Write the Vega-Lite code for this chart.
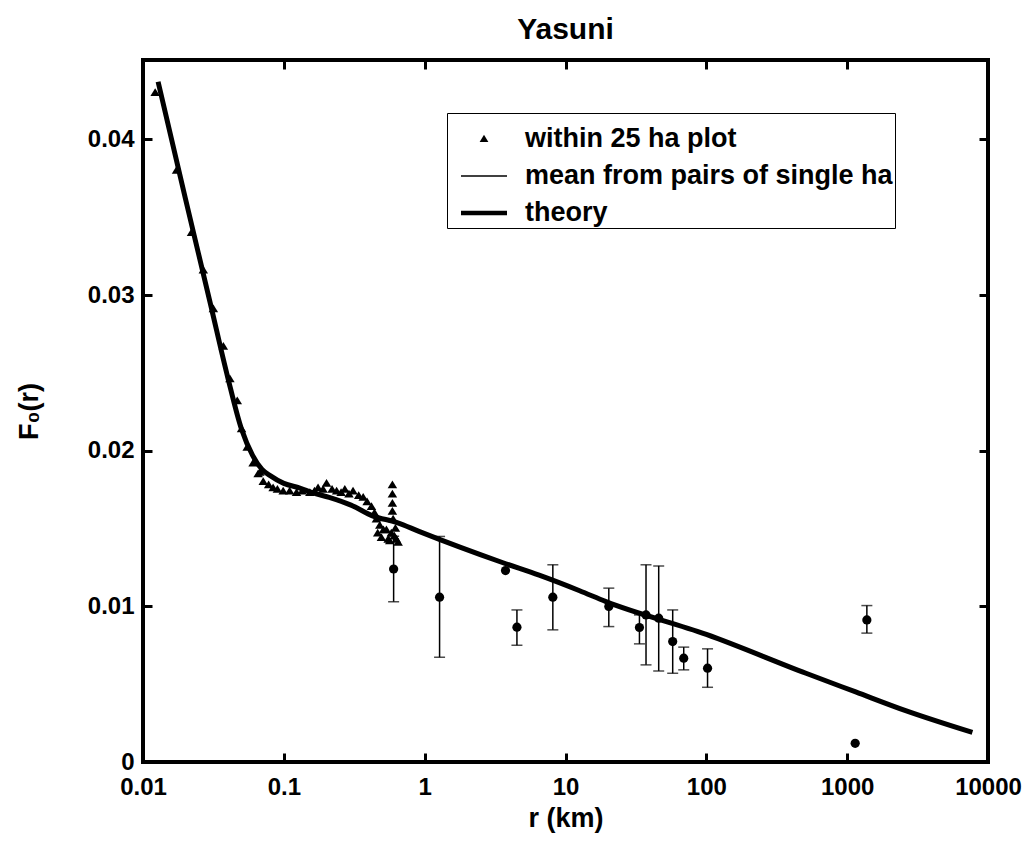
{
  "$schema": "https://vega.github.io/schema/vega-lite/v6.json",
  "width": 845,
  "height": 702,
  "autosize": {"type": "none"},
  "padding": {"left": 143, "top": 60, "right": 45, "bottom": 85},
  "background": "white",
  "config": {
    "font": "Liberation Sans",
    "view": {"stroke": "black", "strokeWidth": 4},
    "axis": {
      "domain": false,
      "grid": false,
      "tickColor": "black",
      "tickWidth": 3,
      "tickSize": -9,
      "labelFont": "Liberation Sans",
      "labelFontWeight": "bold",
      "labelFontSize": 24,
      "labelColor": "black",
      "titleFont": "Liberation Sans",
      "titleFontWeight": "bold",
      "titleFontSize": 27,
      "titleColor": "black"
    }
  },
  "title": {
    "text": "Yasuni",
    "font": "Liberation Sans",
    "fontSize": 30,
    "fontWeight": "bold",
    "color": "black",
    "offset": 14
  },
  "datasets": {
    "theory": [
      {"r": 0.0128, "F": 0.0437},
      {"r": 0.02, "F": 0.0362},
      {"r": 0.03, "F": 0.0295},
      {"r": 0.04, "F": 0.0247},
      {"r": 0.05, "F": 0.0214},
      {"r": 0.06, "F": 0.0197},
      {"r": 0.07, "F": 0.0188},
      {"r": 0.08, "F": 0.0184},
      {"r": 0.1, "F": 0.0179},
      {"r": 0.13, "F": 0.0176},
      {"r": 0.16, "F": 0.0173},
      {"r": 0.21, "F": 0.0170},
      {"r": 0.3, "F": 0.0165},
      {"r": 0.43, "F": 0.0158},
      {"r": 0.63, "F": 0.0154},
      {"r": 0.92, "F": 0.0148},
      {"r": 3.6, "F": 0.0128},
      {"r": 6.5, "F": 0.0120},
      {"r": 12.6, "F": 0.0110},
      {"r": 19.4, "F": 0.0103},
      {"r": 100, "F": 0.0082},
      {"r": 510, "F": 0.0057},
      {"r": 1150, "F": 0.0045},
      {"r": 2600, "F": 0.0033},
      {"r": 7750, "F": 0.0019}
    ],
    "plot25": [
      {"r": 0.0122, "F": 0.0430, "series": "within 25 ha plot"},
      {"r": 0.0173, "F": 0.0380, "series": "within 25 ha plot"},
      {"r": 0.0221, "F": 0.0340, "series": "within 25 ha plot"},
      {"r": 0.0268, "F": 0.0316, "series": "within 25 ha plot"},
      {"r": 0.0316, "F": 0.0291, "series": "within 25 ha plot"},
      {"r": 0.0372, "F": 0.0267, "series": "within 25 ha plot"},
      {"r": 0.0414, "F": 0.0246, "series": "within 25 ha plot"},
      {"r": 0.0467, "F": 0.0232, "series": "within 25 ha plot"},
      {"r": 0.0501, "F": 0.0214, "series": "within 25 ha plot"},
      {"r": 0.0549, "F": 0.0202, "series": "within 25 ha plot"},
      {"r": 0.0605, "F": 0.0192, "series": "within 25 ha plot"},
      {"r": 0.0623, "F": 0.0193, "series": "within 25 ha plot"},
      {"r": 0.0657, "F": 0.0185, "series": "within 25 ha plot"},
      {"r": 0.0676, "F": 0.0186, "series": "within 25 ha plot"},
      {"r": 0.0714, "F": 0.0180, "series": "within 25 ha plot"},
      {"r": 0.078, "F": 0.0178, "series": "within 25 ha plot"},
      {"r": 0.0839, "F": 0.0176, "series": "within 25 ha plot"},
      {"r": 0.09, "F": 0.0175, "series": "within 25 ha plot"},
      {"r": 0.0989, "F": 0.0174, "series": "within 25 ha plot"},
      {"r": 0.11, "F": 0.0174, "series": "within 25 ha plot"},
      {"r": 0.123, "F": 0.0173, "series": "within 25 ha plot"},
      {"r": 0.135, "F": 0.0174, "series": "within 25 ha plot"},
      {"r": 0.153, "F": 0.0173, "series": "within 25 ha plot"},
      {"r": 0.165, "F": 0.0174, "series": "within 25 ha plot"},
      {"r": 0.175, "F": 0.0176, "series": "within 25 ha plot"},
      {"r": 0.19, "F": 0.0175, "series": "within 25 ha plot"},
      {"r": 0.201, "F": 0.0179, "series": "within 25 ha plot"},
      {"r": 0.22, "F": 0.0175, "series": "within 25 ha plot"},
      {"r": 0.237, "F": 0.0174, "series": "within 25 ha plot"},
      {"r": 0.255, "F": 0.0173, "series": "within 25 ha plot"},
      {"r": 0.271, "F": 0.0175, "series": "within 25 ha plot"},
      {"r": 0.29, "F": 0.0172, "series": "within 25 ha plot"},
      {"r": 0.31, "F": 0.0174, "series": "within 25 ha plot"},
      {"r": 0.34, "F": 0.0171, "series": "within 25 ha plot"},
      {"r": 0.366, "F": 0.0170, "series": "within 25 ha plot"},
      {"r": 0.39, "F": 0.0167, "series": "within 25 ha plot"},
      {"r": 0.419, "F": 0.0164, "series": "within 25 ha plot"},
      {"r": 0.44, "F": 0.0160, "series": "within 25 ha plot"},
      {"r": 0.454, "F": 0.0156, "series": "within 25 ha plot"},
      {"r": 0.464, "F": 0.0147, "series": "within 25 ha plot"},
      {"r": 0.48, "F": 0.0152, "series": "within 25 ha plot"},
      {"r": 0.493, "F": 0.0144, "series": "within 25 ha plot"},
      {"r": 0.51, "F": 0.0149, "series": "within 25 ha plot"},
      {"r": 0.535, "F": 0.0149, "series": "within 25 ha plot"},
      {"r": 0.55, "F": 0.0143, "series": "within 25 ha plot"},
      {"r": 0.565, "F": 0.0142, "series": "within 25 ha plot"},
      {"r": 0.58, "F": 0.0147, "series": "within 25 ha plot"},
      {"r": 0.597, "F": 0.0156, "series": "within 25 ha plot"},
      {"r": 0.59, "F": 0.0178, "series": "within 25 ha plot"},
      {"r": 0.59, "F": 0.0172, "series": "within 25 ha plot"},
      {"r": 0.59, "F": 0.0166, "series": "within 25 ha plot"},
      {"r": 0.59, "F": 0.0161, "series": "within 25 ha plot"},
      {"r": 0.61, "F": 0.0145, "series": "within 25 ha plot"},
      {"r": 0.63, "F": 0.0143, "series": "within 25 ha plot"},
      {"r": 0.648, "F": 0.0141, "series": "within 25 ha plot"},
      {"r": 0.62, "F": 0.0150, "series": "within 25 ha plot"}
    ],
    "pairs": [
      {"r": 0.602, "F": 0.0124, "lo": 0.0103, "hi": 0.0145},
      {"r": 1.276, "F": 0.01059, "lo": 0.00673, "hi": 0.01449},
      {"r": 3.75, "F": 0.0123, "lo": null, "hi": null},
      {"r": 4.52, "F": 0.00866, "lo": 0.0075, "hi": 0.00977},
      {"r": 8.13, "F": 0.01059, "lo": 0.00849, "hi": 0.01267},
      {"r": 20.3, "F": 0.00999, "lo": 0.0087, "hi": 0.01117},
      {"r": 33.5, "F": 0.00864, "lo": 0.00759, "hi": 0.00945},
      {"r": 37.3, "F": 0.00945, "lo": 0.00624, "hi": 0.01267},
      {"r": 45.9, "F": 0.00924, "lo": 0.00585, "hi": 0.0126},
      {"r": 57.7, "F": 0.00774, "lo": 0.0057, "hi": 0.00977},
      {"r": 69.1, "F": 0.00667, "lo": 0.00592, "hi": 0.00738},
      {"r": 102, "F": 0.00603, "lo": 0.0048, "hi": 0.00727},
      {"r": 1140, "F": 0.0012, "lo": null, "hi": null},
      {"r": 1380, "F": 0.00913, "lo": 0.00828, "hi": 0.01005}
    ]
  },
  "resolve": {"axis": {"x": "independent", "y": "independent"}},
  "layer": [
    {
      "data": {"name": "theory"},
      "mark": {"type": "line", "color": "black", "strokeWidth": 5, "interpolate": "monotone"},
      "encoding": {
        "x": {
          "field": "r", "type": "quantitative",
          "scale": {"type": "log", "domain": [0.01, 10000], "nice": false},
          "axis": {"values": [0.01, 0.1, 1, 10, 100, 1000, 10000], "format": "~g", "title": "r (km)", "labelPadding": 22, "titlePadding": 6, "labelFlush": false}
        },
        "y": {
          "field": "F", "type": "quantitative",
          "scale": {"domain": [0, 0.0451], "nice": false, "zero": false},
          "axis": {"values": [0, 0.01, 0.02, 0.03, 0.04], "format": "~g", "title": "F₀(r)", "labelPadding": 18, "titlePadding": 44, "labelFlush": false}
        }
      }
    },
    {
      "data": {"name": "pairs"},
      "transform": [{"filter": "isValid(datum.lo)"}],
      "layer": [
        {
          "mark": {"type": "rule", "color": "black", "strokeWidth": 1.5},
          "encoding": {
            "x": {"field": "r", "type": "quantitative", "axis": null},
            "y": {"field": "lo", "type": "quantitative", "axis": null},
            "y2": {"field": "hi"}
          }
        },
        {
          "mark": {"type": "tick", "orient": "horizontal", "color": "black", "size": 11, "thickness": 1.5},
          "encoding": {
            "x": {"field": "r", "type": "quantitative", "axis": null},
            "y": {"field": "lo", "type": "quantitative", "axis": null}
          }
        },
        {
          "mark": {"type": "tick", "orient": "horizontal", "color": "black", "size": 11, "thickness": 1.5},
          "encoding": {
            "x": {"field": "r", "type": "quantitative", "axis": null},
            "y": {"field": "hi", "type": "quantitative", "axis": null}
          }
        }
      ]
    },
    {
      "data": {"name": "pairs"},
      "mark": {"type": "point", "shape": "circle", "filled": true, "color": "black", "size": 85, "opacity": 1},
      "encoding": {
        "x": {"field": "r", "type": "quantitative", "axis": null},
        "y": {"field": "F", "type": "quantitative", "axis": null}
      }
    },
    {
      "data": {"name": "plot25"},
      "mark": {"type": "point", "filled": true, "color": "black", "size": 2500, "opacity": 1, "strokeWidth": 0},
      "encoding": {
        "x": {"field": "r", "type": "quantitative", "axis": {"orient": "top", "values": [0.01, 0.1, 1, 10, 100, 1000, 10000], "labels": false, "title": null}},
        "y": {"field": "F", "type": "quantitative", "axis": {"orient": "right", "values": [0, 0.01, 0.02, 0.03, 0.04], "labels": false, "title": null}},
        "shape": {
          "field": "series", "type": "nominal",
          "scale": {
            "domain": ["within 25 ha plot", "mean from pairs of single ha", "theory"],
            "range": [
              "M0,-0.18L0.19,0.13L-0.19,0.13Z",
              "M-1,-0.033L1,-0.033L1,0.033L-1,0.033Z",
              "M-1,-0.098L1,-0.098L1,0.098L-1,0.098Z"
            ]
          },
          "legend": {
            "title": null,
            "orient": "none",
            "legendX": 304,
            "legendY": 53,
            "symbolSize": 2116,
            "symbolOffset": 11,
            "labelOffset": 17,
            "labelFont": "Liberation Sans",
            "labelFontWeight": "bold",
            "labelFontSize": 27,
            "labelColor": "black",
            "labelLimit": 700,
            "symbolFillColor": "black",
            "strokeColor": "black",
            "fillColor": "white",
            "padding": 2,
            "rowPadding": -14
          }
        }
      }
    }
  ]
}
